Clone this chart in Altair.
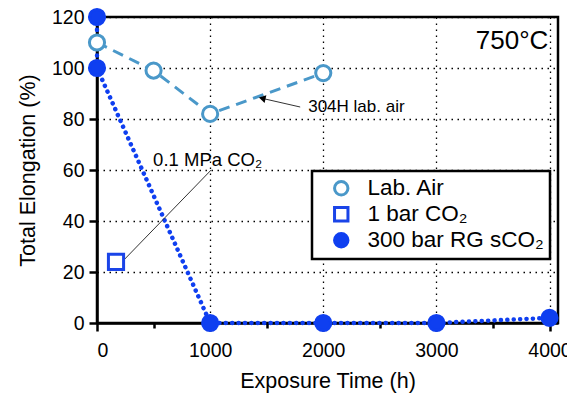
import altair as alt
import pandas as pd

# ---- data ----
air_t = [0, 500, 1000, 2000]
air_el = [110, 99, 82, 98]
co2_t = [168]
co2_el = [24]
sco2_t = [0, 0, 1000, 2000, 3000, 4000]
sco2_el = [120, 100, 0, 0, 0, 2]
series_names = ["Lab. Air", "1 bar CO₂", "300 bar RG sCO₂"]

FONT = "Liberation Sans"
C_AIR = "#4a98c9"
C_CO2 = "#1a44e8"
C_SCO2 = "#0f3ff0"

pts = pd.DataFrame(
    [{"t": t, "e": e, "s": series_names[0]} for t, e in zip(air_t, air_el)]
    + [{"t": t, "e": e, "s": series_names[1]} for t, e in zip(co2_t, co2_el)]
    + [{"t": t, "e": e, "s": series_names[2]} for t, e in zip(sco2_t, sco2_el)]
)
air_df = pd.DataFrame({"t": air_t, "e": air_el, "o": range(len(air_t))})
sco2_df = pd.DataFrame({"t": sco2_t, "e": sco2_el, "o": range(len(sco2_t))})

xs = alt.Scale(domain=[0, 4075], nice=False, zero=False)
ys = alt.Scale(domain=[0, 120], nice=False)

xaxis = alt.Axis(
    values=[0, 500, 1000, 1500, 2000, 2500, 3000, 3500, 4000],
    labelExpr="datum.value % 1000 === 0 ? datum.label : ''",
    format="d",
    title="Exposure Time (h)",
    grid=True,
    gridDash=[1.5, 4.5],
    gridColor="black",
    gridWidth=1.3,
    gridOpacity={"condition": {"test": "datum.value % 1000 === 0 && datum.value > 0", "value": 1}, "value": 0},
    tickSize={"condition": {"test": "datum.value % 1000 === 0", "value": 8}, "value": 5},
    tickWidth=2.5, tickColor="black",
    domainColor="black", domainWidth=2.5,
    labelFont=FONT, labelFontSize=19.5, labelColor="black", labelPadding=10, labelOverlap=False,
    titleFont=FONT, titleFontSize=21.5, titleFontWeight="normal", titleColor="black", titlePadding=11,
)
yaxis = alt.Axis(
    values=list(range(0, 121, 10)),
    labelExpr="datum.value % 20 === 0 ? datum.label : ''",
    title="Total Elongation (%)",
    grid=True,
    gridDash=[1.5, 4.5],
    gridColor="black",
    gridWidth=1.3,
    gridOpacity={"condition": {"test": "datum.value % 20 === 0 && datum.value > 0", "value": 1}, "value": 0},
    tickSize={"condition": {"test": "datum.value % 20 === 0", "value": 8}, "value": 5},
    tickWidth=2.5, tickColor="black",
    domainColor="black", domainWidth=2.5,
    labelFont=FONT, labelFontSize=19.5, labelColor="black", labelPadding=5,
    titleFont=FONT, titleFontSize=21.5, titleFontWeight="normal", titleColor="black", titlePadding=12,
)

air_line = alt.Chart(air_df).mark_line(color=C_AIR, strokeWidth=3, strokeDash=[11, 7]).encode(
    x=alt.X("t:Q", scale=xs, axis=xaxis), y=alt.Y("e:Q", scale=ys, axis=yaxis), order="o:Q"
)
sco2_line = alt.Chart(sco2_df).mark_line(
    color=C_SCO2, strokeWidth=4.5, strokeDash=[0.1, 6.3], strokeCap="round"
).encode(x=alt.X("t:Q", scale=xs), y=alt.Y("e:Q", scale=ys), order="o:Q")

legend = alt.Legend(
    title=None, orient="none", legendX=215, legendY=154,
    strokeColor="black", fillColor="white", padding=6,
    labelFont=FONT, labelFontSize=22.5, labelColor="black", labelLimit=300, labelOffset=15,
    symbolSize=180, symbolStrokeWidth=3, symbolOffset=12, rowPadding=0,
)
points = alt.Chart(pts).mark_point(size=230, strokeWidth=3, opacity=1, filled=False).encode(
    x=alt.X("t:Q", scale=xs),
    y=alt.Y("e:Q", scale=ys),
    shape=alt.Shape("s:N", scale=alt.Scale(domain=series_names, range=["circle", "square", "circle"]), legend=legend),
    stroke=alt.Stroke("s:N", scale=alt.Scale(domain=series_names, range=[C_AIR, C_CO2, C_SCO2]), legend=legend),
    fill=alt.Fill("s:N", scale=alt.Scale(domain=series_names, range=["white", "white", C_SCO2]), legend=legend),
)

# annotations
ann_text = pd.DataFrame({
    "t": [3990, 1867, 496],
    "e": [110.5, 84.7, 64],
    "label": ["750°C", "304H lab. air", "0.1 MPa CO₂"],
})
texts_r = alt.Chart(ann_text.iloc[[0]]).mark_text(font=FONT, fontSize=26, align="right", baseline="middle", color="black").encode(
    x=alt.X("t:Q", scale=xs), y=alt.Y("e:Q", scale=ys), text="label:N")
texts_l = alt.Chart(ann_text.iloc[[1]]).mark_text(font=FONT, fontSize=17, align="left", baseline="middle", color="black").encode(
    x=alt.X("t:Q", scale=xs), y=alt.Y("e:Q", scale=ys), text="label:N")
texts_l2 = alt.Chart(ann_text.iloc[[2]]).mark_text(font=FONT, fontSize=18.5, align="left", baseline="middle", color="black").encode(
    x=alt.X("t:Q", scale=xs), y=alt.Y("e:Q", scale=ys), text="label:N")

arrows = pd.DataFrame({
    "t1": [1796, 1009], "e1": [84.7, 60],
    "t2": [1470, 200], "e2": [88.0, 23.0],
    "ang": [283, 223.5],
})
arrow_lines = alt.Chart(arrows).mark_rule(color="#333333", strokeWidth=1).encode(
    x=alt.X("t1:Q", scale=xs), y=alt.Y("e1:Q", scale=ys), x2="t2:Q", y2="e2:Q")
arrow_heads = alt.Chart(arrows).mark_point(shape="triangle", filled=True, size=60, color="black", opacity=1).encode(
    x=alt.X("t2:Q", scale=xs), y=alt.Y("e2:Q", scale=ys), angle=alt.Angle("ang:Q", scale=None))

chart = alt.layer(
    air_line, sco2_line, arrow_lines, arrow_heads, points, texts_r, texts_l, texts_l2
).resolve_scale(shape="independent", stroke="independent", fill="independent").properties(
    width=461, height=306,
    autosize=alt.AutoSizeParams(type="none"),
    padding={"left": 97, "top": 17, "right": 9, "bottom": 72},
).configure_view(stroke="black", strokeWidth=2.5).configure_legend(strokeWidth=2.5)

chart.save("out.html", embed_options={"renderer": "svg", "actions": False})
